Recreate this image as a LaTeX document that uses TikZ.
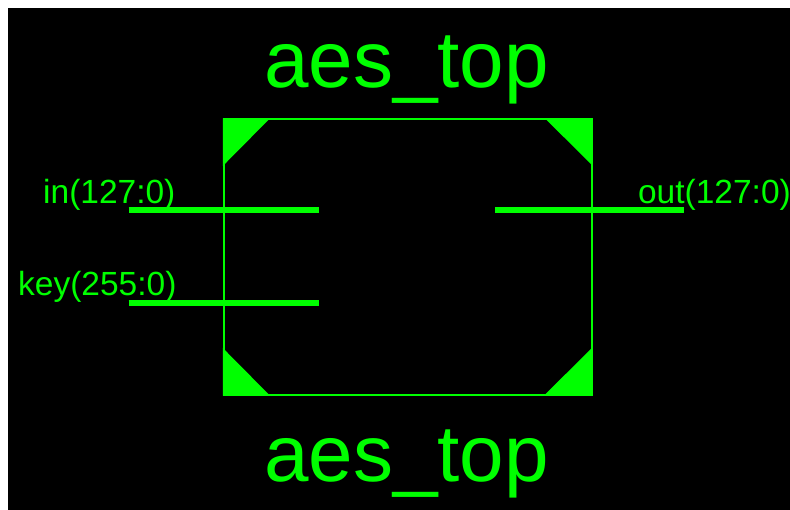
\documentclass[tikz,border=0pt]{standalone}
\usepackage{fontspec}
\setmainfont{Liberation Sans}
\definecolor{gr}{RGB}{0,255,0}
\tikzset{
  title/.style={text=gr,font=\fontsize{80}{80}\selectfont,inner sep=0pt,anchor=base},
  port/.style={text=gr,font=\fontsize{33.5}{33.5}\selectfont,inner sep=0pt,anchor=base},
  wire/.style={draw=gr,line width=6pt},
  corner/.style={fill=gr,draw=none},
}
\begin{document}
\begin{tikzpicture}[x=1pt,y=-1pt]
\useasboundingbox (0,0) rectangle (790,510);
\fill[white] (0,0) rectangle (790,510);
\fill[black] (8,8) rectangle (790,510);
\draw[gr,line width=1.4pt] (223.8,119) rectangle (592,395);
\fill[corner] (222.8,118.3) -- (270,118.3) -- (222.8,166) -- cycle;
\fill[corner] (592.8,118.3) -- (545,118.3) -- (592.8,166) -- cycle;
\fill[corner] (222.8,395.7) -- (270,395.7) -- (222.8,348) -- cycle;
\fill[corner] (592.8,395.7) -- (544,395.7) -- (592.8,347) -- cycle;
\coordinate (ina) at (128.5,210); \coordinate (inb) at (319,210);
\coordinate (ka) at (128.5,303); \coordinate (kb) at (319,303);
\coordinate (oa) at (495,210); \coordinate (ob) at (684,210);
\draw[wire] (ina) -- (inb);
\draw[wire] (ka) -- (kb);
\draw[wire] (oa) -- (ob);
\node[title] (t1) at (406.5,87.5) {aes\_top};
\node[title] (t2) at (406.5,482) {aes\_top};
\node[port,anchor=base west] (l1) at (43,204) {in(127:0)};
\node[port,anchor=base west] (l2) at (18,295.5) {key(255:0)};
\node[port,anchor=base east] (l3) at (791,204) {out(127:0)};
\end{tikzpicture}
\end{document}
